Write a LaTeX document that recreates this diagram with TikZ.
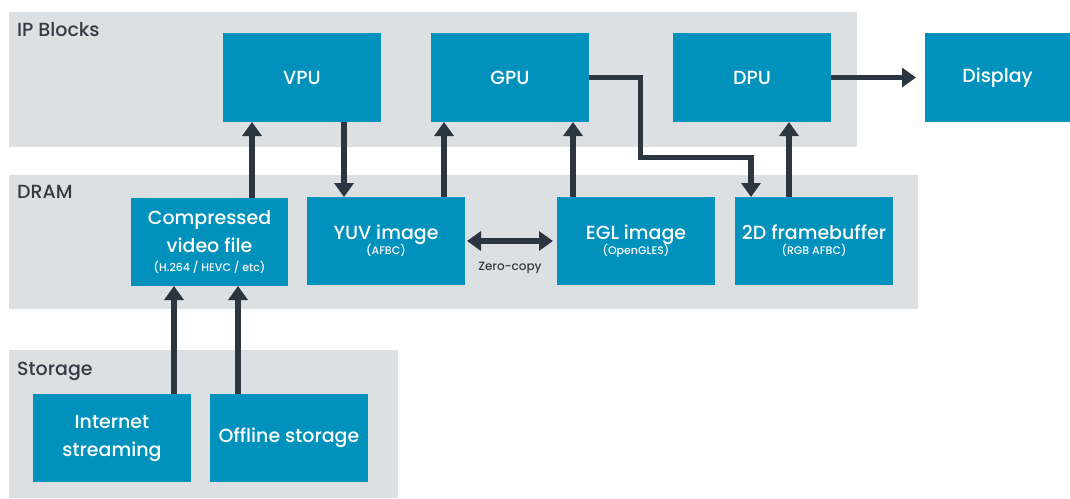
\documentclass[tikz,border=0pt]{standalone}
\usepackage{fontspec}
\setmainfont{Poppins}[UprightFont={* Medium}]
\usetikzlibrary{arrows.meta}
\definecolor{boxblue}{RGB}{0,145,189}
\definecolor{panelgray}{RGB}{221,224,226}
\definecolor{darkline}{RGB}{44,54,64}
\definecolor{labeltext}{RGB}{51,60,70}
\begin{document}
\begin{tikzpicture}[x=1pt,y=-1pt,
  blk/.style={fill=boxblue,text=white,inner sep=0pt,outer sep=0pt,anchor=north west,align=center,font=\fontsize{19}{28}\selectfont},
  arr/.style={draw=darkline,line width=5.5pt,-{Triangle[width=19pt,length=14pt]}},
  dblarr/.style={draw=darkline,line width=5.5pt,{Triangle[width=19pt,length=14pt]}-{Triangle[width=19pt,length=14pt]}},
  plabel/.style={text=labeltext,anchor=west,inner sep=0pt,font=\fontsize{19}{22}\selectfont}]
\useasboundingbox (0,0) rectangle (1070,498);
% panels
\fill[panelgray] (9,12) rectangle (857,147);
\fill[panelgray] (9,175) rectangle (918,309);
\fill[panelgray] (9,350) rectangle (398,498);
\node[plabel] (lip) at (17,30) {IP Blocks};
\node[plabel] (ldram) at (17,192) {DRAM};
\node[plabel] (lsto) at (17,371) {Storage};
% blocks
\node[blk,minimum width=158pt,minimum height=89pt] (vpu) at (223,33) {VPU};
\node[blk,minimum width=158pt,minimum height=89pt] (gpu) at (431,33) {GPU};
\node[blk,minimum width=158pt,minimum height=89pt] (dpu) at (673,33) {DPU};
\node[blk,minimum width=145pt,minimum height=89pt] (display) at (925,33) {Display};
\node[blk,minimum width=157pt,minimum height=88pt] (comp) at (131,198) {Compressed\\video file\\[-9pt]{\fontsize{11}{12}\selectfont (H.264 / HEVC / etc)}};
\node[blk,minimum width=158pt,minimum height=88pt] (yuv) at (307,197) {YUV image\\[-13pt]{\fontsize{11}{12}\selectfont (AFBC)}};
\node[blk,minimum width=158pt,minimum height=88pt] (egl) at (557,197) {EGL image\\[-13pt]{\fontsize{11}{12}\selectfont (OpenGLES)}};
\node[blk,minimum width=158pt,minimum height=88pt] (fb) at (735,197) {2D framebuffer\\[-13pt]{\fontsize{11}{12}\selectfont (RGB AFBC)}};
\node[blk,minimum width=158pt,minimum height=88pt] (inet) at (33,394) {Internet\\streaming};
\node[blk,minimum width=158pt,minimum height=88pt] (off) at (210,394) {Offline storage};
% connectors
\draw[arr] ([xshift=42.5pt]comp.north) coordinate (a1) -- (a1 |- vpu.south);
\draw[arr] ([xshift=42pt]vpu.south) coordinate (a2) -- (a2 |- yuv.north);
\draw[arr] ([xshift=58pt]yuv.north) coordinate (a3) -- (a3 |- gpu.south);
\draw[arr] ([xshift=-63pt]egl.north) coordinate (a4) -- (a4 |- gpu.south);
\draw[arr] (gpu.east) -- ++(51.5,0) -- ++(0,80) -| ([xshift=-63pt]fb.north);
\draw[arr] ([xshift=-25pt]fb.north) coordinate (a5) -- (a5 |- dpu.south);
\draw[arr,shorten >=9pt] (dpu.east) -- (display.west);
\draw[dblarr,shorten <=2pt,shorten >=4pt] (yuv.east) -- (egl.west);
\node[font=\fontsize{12}{14}\selectfont,text=labeltext] (zc) at (510,268) {Zero-copy};
\draw[arr] ([xshift=62pt]inet.north) coordinate (a6) -- (a6 |- comp.south);
\draw[arr] ([xshift=-51pt]off.north) coordinate (a7) -- (a7 |- comp.south);
\end{tikzpicture}
\end{document}
